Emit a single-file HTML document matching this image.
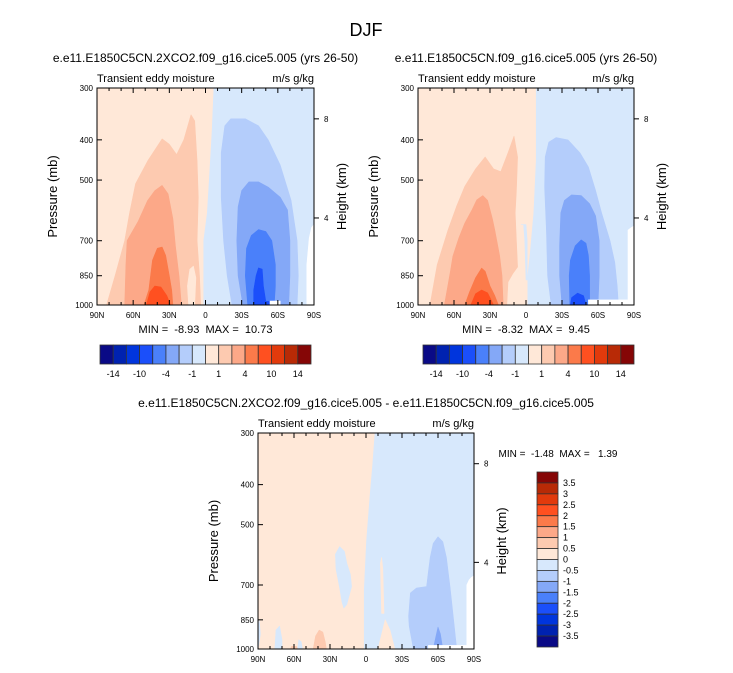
<!DOCTYPE html>
<html><head><meta charset="utf-8"><style>
body{margin:0;background:#fff;}
svg{display:block;font-family:"Liberation Sans",sans-serif;}
.pre{white-space:pre;}
</style></head><body>
<svg id="chart" width="733" height="673" viewBox="0 0 733 673" xmlns="http://www.w3.org/2000/svg">
<text x="366" y="36" font-size="18" text-anchor="middle">DJF</text>
</svg>
<script>
// ---- data ----
const palette = ['#0a0a86','#0022b0','#0035dd','#1b4ffa','#4a80fa','#84a8f7','#b4cdfb','#d7e8fc','#ffe8d8','#fdcab0','#fca888','#fb7a4a','#ff5020','#e23a0c','#b82a06','#850606'];
const latTicks = [90,60,30,0,-30,-60,-90];
const latTickLabels = ['90N','60N','30N','0','30S','60S','90S'];
const pTicks = [300,400,500,700,850,1000];
const heightTickP = [617,356];
const heightTickLabels = ['4','8'];
const hBarLabels = ['-14','-10','-4','-1','1','4','10','14'];
const vBarLabels = ['3.5','3','2.5','2','1.5','1','0.5','0','-0.5','-1','-1.5','-2','-2.5','-3','-3.5'];

const plot1Regions = [
 [7, [[90,300],[-90,300],[-90,1000],[90,1000]]],
 [8, [[90,300],[-6.5,300],[-5,380],[-3,480],[-1,600],[2,700],[2,1000],[90,1000]]],
 [9, [[82,1000],[75,850],[67,700],[63,600],[58,510],[48,450],[36,398],[30,410],[24,434],[18,400],[12,348],[9,360],[7,450],[6,550],[7,700],[5,850],[4,1000]]],
 [8, [[14,1000],[15,900],[13,820],[10,806],[8,860],[9,1000]]],
 [10,[[67,1000],[66,800],[65,700],[56,630],[48,560],[42,530],[36,515],[31,540],[27,620],[25,720],[22,850],[20,1000]]],
 [11,[[51,1000],[47,920],[44,780],[40,730],[36,725],[33,760],[30,850],[28,920],[27,1000]]],
 [12,[[49,1000],[46,930],[42,900],[37,905],[32,950],[29,1000]]],
 [6, [[-22,1000],[-18,850],[-15,700],[-13,550],[-13,430],[-16,370],[-21,356],[-33,356],[-44,370],[-52,400],[-62,460],[-71,560],[-76,700],[-77,850],[-76,1000]]],
 [5, [[-31,1000],[-27,850],[-26,700],[-27,580],[-30,530],[-36,505],[-44,505],[-52,520],[-62,550],[-68,590],[-70,700],[-70,850],[-69,1000]]],
 [4, [[-35,1000],[-33,850],[-34,730],[-38,680],[-44,658],[-50,665],[-55,700],[-58,800],[-58,900],[-57,1000]]],
 [3, [[-40,1000],[-40,920],[-42,850],[-44,814],[-47,820],[-48,900],[-50,980],[-55,980],[-55,1000]]],
 [-1,[[-53.5,1000],[-53.5,978],[-62,978],[-62,1000]]],
 [-1,[[-84,1000],[-84,800],[-86,690],[-88,650],[-90,640],[-90,1000]]]
];
const plot2Regions = [
 [7, [[90,300],[-90,300],[-90,1000],[90,1000]]],
 [8, [[90,300],[-8,300],[-8,450],[-6,600],[-3,750],[-1,850],[-1,1000],[90,1000]]],
 [7, [[4,640],[2,640],[1,700],[0,870],[-1,870],[-1,700],[0,640]]],
 [9, [[80,1000],[74,800],[65,660],[58,580],[51,518],[42,470],[34,440],[27,470],[21,477],[15,430],[10,392],[7,440],[8,530],[9,600],[8,700],[7,810],[11,840],[15,880],[16,1000]]],
 [10,[[68,1000],[63,830],[61,764],[56,690],[51,635],[45,590],[41,558],[36,545],[32,560],[28,620],[26,660],[22,760],[20,850],[19,1000]]],
 [11,[[51,1000],[47,930],[42,860],[37,815],[34,830],[30,900],[26,950],[23,1000]]],
 [12,[[46,1000],[42,940],[37,920],[32,935],[27,1000]]],
 [6, [[-21,1000],[-18,850],[-17,660],[-15.5,520],[-16,440],[-19,405],[-25,395],[-35,400],[-45,430],[-52,465],[-58,530],[-63,600],[-70,700],[-74,790],[-76,900],[-77,1000]]],
 [5, [[-30,1000],[-28,850],[-28,720],[-29,600],[-32,560],[-38,543],[-46,545],[-53,570],[-58,610],[-61,700],[-61,850],[-60,1000]]],
 [4, [[-36.5,1000],[-36,850],[-37,780],[-41,720],[-46,697],[-50,710],[-52,760],[-53,850],[-53,1000]]],
 [3, [[-37,1000],[-38,960],[-43,936],[-48,950],[-50,1000]]],
 [-1,[[-52,1000],[-52,972],[-85,972],[-85,660],[-88,650],[-90,645],[-90,1000]]]
];
const plot3Regions = [
 [7, [[90,300],[-90,300],[-90,1000],[90,1000]]],
 [8, [[90,300],[-7,300],[-5,360],[-3,420],[0,545],[2,720],[2,1000],[90,1000]]],
 [7, [[22,565],[25.5,590],[25,640],[22,710],[20,770],[18.5,796],[16,780],[12,706],[13,660],[16,620],[18,580]]],
 [7, [[76,1000],[75,900],[72,880],[70,950],[70,1000]]],
 [7, [[57,1000],[56,950],[54,960],[53,1000]]],
 [7, [[90,900],[89,850],[88,920],[90,1000]]],
 [9, [[44,1000],[42,930],[39,900],[36,910],[34,960],[33,1000]]],
 [9, [[63,1000],[62,985],[58,985],[57,1000]]],
 [8, [[-12,620],[-13,600],[-14,640],[-15,820],[-13,820]]],
 [8, [[-10,1000],[-16,850],[-20,900],[-24,1000]]],
 [6, [[-39.5,1000],[-36,880],[-35.5,834],[-37,732],[-42,712],[-50.5,706],[-52,650],[-53.5,600],[-56,555],[-60,535],[-64,550],[-67,600],[-70,706],[-73,850],[-75.6,1000]]],
 [5, [[-56,1000],[-58,940],[-60,885],[-62,920],[-64,1000]]],
 [-1,[[-52,1000],[-52,980],[-84,980],[-84,700],[-86,680],[-88,670],[-90,665],[-90,1000]]]
];

const NS='http://www.w3.org/2000/svg';
const svg=document.getElementById('chart');
function mk(tag,attrs,parent,txt){const e=document.createElementNS(NS,tag);for(const k in attrs)e.setAttribute(k,attrs[k]);if(txt!==undefined)e.textContent=txt;(parent||svg).appendChild(e);return e;}

function drawPlot(name,ox,oy,w,h,regions,title,showMinMax,minmax){
  const g=mk('g',{});
  
  
  const xs=lat=>ox+(90-lat)/180*w;
  const lp0=Math.log(300),lp1=Math.log(1000);
  const ys=p=>oy+(Math.log(p)-lp0)/(lp1-lp0)*h;
  const clip='clip-'+name;
  const defs=mk('defs',{},g);
  const cp=mk('clipPath',{id:clip},defs);
  mk('rect',{x:ox,y:oy,width:w,height:h},cp);
  const cg=mk('g',{'clip-path':'url(#'+clip+')'},g);
  regions.forEach(r=>{
    const pts=r[1].map(q=>xs(q[0]).toFixed(1)+','+ys(q[1]).toFixed(1)).join(' ');
    const el=mk('polygon',{points:pts,fill:r[0]<0?'#ffffff':palette[r[0]],stroke:r[0]<0?'#ffffff':palette[r[0]],'stroke-width':0.6,'stroke-linejoin':'round'},cg);
    
    
  });
  mk('rect',{x:ox,y:oy,width:w,height:h,fill:'none',stroke:'#000','stroke-width':1},g);
  for(let lat=90;lat>=-90;lat-=10){
    const major=lat%30===0, L=major?5:3, x=xs(lat);
    mk('line',{x1:x,y1:oy+h,x2:x,y2:oy+h-L,stroke:'#000','stroke-width':1},g);
    mk('line',{x1:x,y1:oy,x2:x,y2:oy+L,stroke:'#000','stroke-width':1},g);
  }
  latTicks.forEach((lat,i)=>{
    const t=mk('text',{x:xs(lat),y:oy+h+13,'font-size':8,'text-anchor':'middle'},g,latTickLabels[i]);
    
    
  });
  pTicks.forEach(p=>{
    const y=ys(p);
    mk('line',{x1:ox,y1:y,x2:ox+5,y2:y,stroke:'#000','stroke-width':1},g);
    const t=mk('text',{x:ox-4,y:y+3,'font-size':8,'text-anchor':'end'},g,String(p));
    
    
  });
  heightTickP.forEach((p,i)=>{
    const y=ys(p);
    mk('line',{x1:ox+w,y1:y,x2:ox+w+5,y2:y,stroke:'#000','stroke-width':1},g);
    const t=mk('text',{x:ox+w+10,y:y+3,'font-size':8},g,heightTickLabels[i]);
    
    
  });
  const yl=mk('text',{x:0,y:0,'font-size':13,'text-anchor':'middle',transform:`translate(${ox-40},${oy+h/2}) rotate(-90)`},g,'Pressure (mb)');
  
  
  const yr=mk('text',{x:0,y:0,'font-size':13,'text-anchor':'middle',transform:`translate(${ox+w+32},${oy+h/2}) rotate(-90)`},g,'Height (km)');
  
  
  const lt=mk('text',{x:ox,y:oy-6,'font-size':11},g,'Transient eddy moisture');
  
  
  const rt=mk('text',{x:ox+w,y:oy-6,'font-size':11,'text-anchor':'end'},g,'m/s g/kg');
  
  
  if(title){
    const tt=mk('text',{x:ox+w/2,y:oy-26,'font-size':12,'text-anchor':'middle'},g,title);
    
    
  }
  if(showMinMax){
    const mm=mk('text',{x:ox+w/2,y:oy+h+28,'font-size':11,'text-anchor':'middle','class':'pre'},g,minmax);
    
    
  }
}

function hColorbar(name,x0,y0,w,h){
  const g=mk('g',{});
  
  
  const bw=w/palette.length;
  palette.forEach((c,i)=>{
    const r=mk('rect',{x:x0+i*bw,y:y0,width:bw,height:h,fill:c,stroke:'#333','stroke-width':0.8},g);
    
    
  });
  hBarLabels.forEach((l,i)=>{
    const t=mk('text',{x:x0+(2*i+1)*bw,y:y0+h+13,'font-size':9,'text-anchor':'middle'},g,l);
    
    
  });
}
function vColorbar(name,x0,y0,w,h){
  const g=mk('g',{});
  
  
  const bh=h/palette.length;
  palette.slice().reverse().forEach((c,i)=>{
    const r=mk('rect',{x:x0,y:y0+i*bh,width:w,height:bh,fill:c,stroke:'#333','stroke-width':0.8},g);
    
    
  });
  vBarLabels.forEach((l,i)=>{
    const t=mk('text',{x:x0+w+5,y:y0+(i+1)*bh+3,'font-size':9},g,l);
    
    
  });
}

drawPlot('plot-2xco2',97,88,217,217,plot1Regions,'e.e11.E1850C5CN.2XCO2.f09_g16.cice5.005 (yrs 26-50)',true,'MIN =  -8.93  MAX =  10.73');
drawPlot('plot-control',418,88,216,217,plot2Regions,'e.e11.E1850C5CN.f09_g16.cice5.005 (yrs 26-50)',true,'MIN =  -8.32  MAX =  9.45');
drawPlot('plot-difference',258,433,216,216,plot3Regions,'e.e11.E1850C5CN.2XCO2.f09_g16.cice5.005 - e.e11.E1850C5CN.f09_g16.cice5.005',false,'');
hColorbar('colorbar-2xco2',100,345,211,19);
hColorbar('colorbar-control',423,345,211,19);
vColorbar('colorbar-difference',537,472,21,175);
const mm3=mk('text',{x:558,y:457,'font-size':10,'text-anchor':'middle','class':'pre'},svg,'MIN =  -1.48  MAX =   1.39');


</script>
</body></html>
